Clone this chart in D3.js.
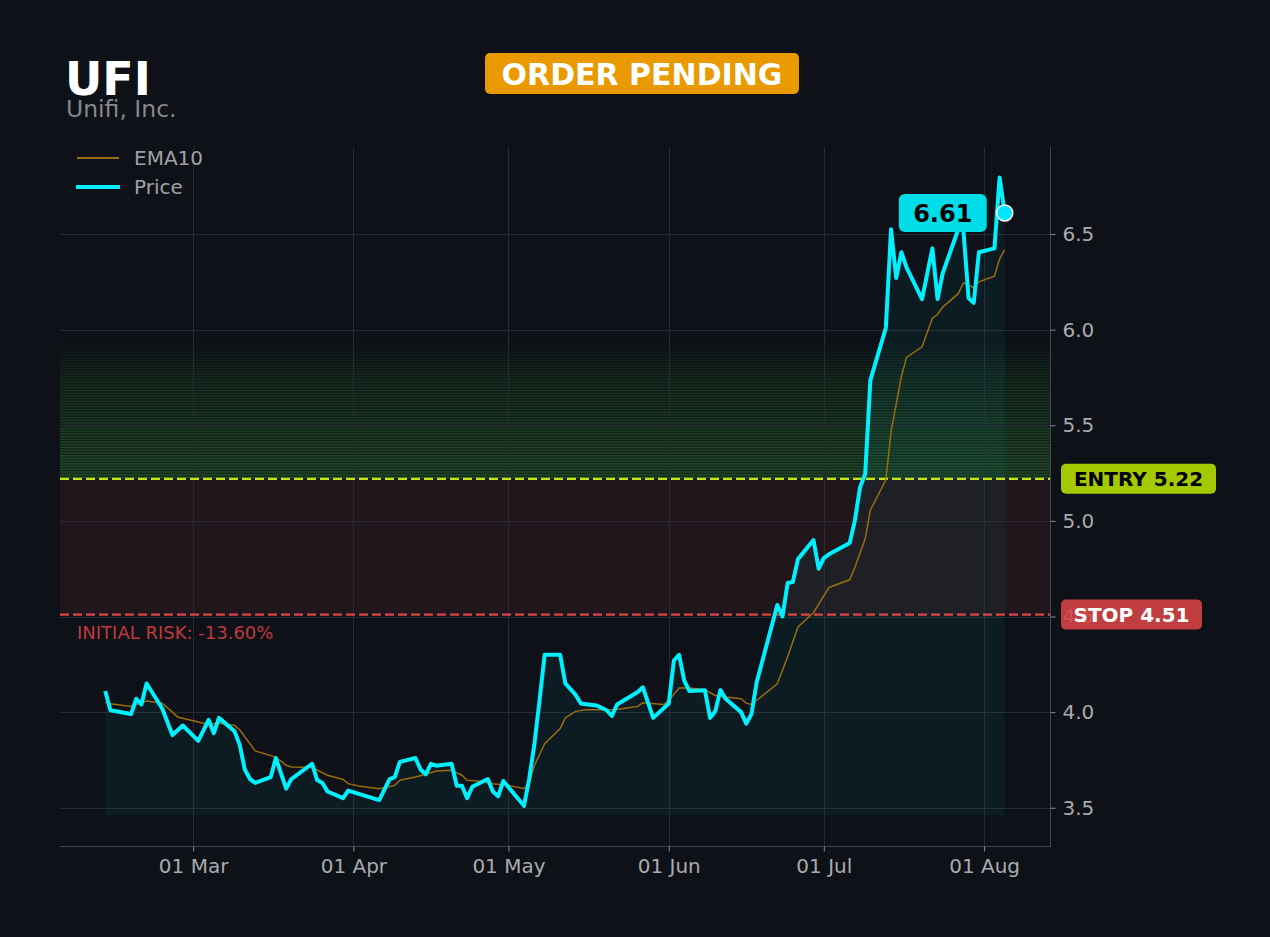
<!DOCTYPE html>
<html>
<head>
<meta charset="utf-8">
<script src="https://cdn.jsdelivr.net/npm/d3@7"></script>
<style>
  body { margin: 0; background: #0e1117; }
  svg { display: block; font-family: "DejaVu Sans", sans-serif; }
</style>
</head>
<body>
<div id="chart"></div>
<script>
const ticker = "UFI";
const companyName = "Unifi, Inc.";
const orderStatus = "ORDER PENDING";
const entryPrice = 5.22;
const stopPrice = 4.51;
const targetPrice = 5.93;
const lastPrice = 6.61;
const riskText = "INITIAL RISK: -13.60%";
const fillBase = 3.46;

// closing prices
const priceDates = [
  "2025-02-12", "2025-02-13", "2025-02-17", "2025-02-18", "2025-02-19", "2025-02-20", "2025-02-23", "2025-02-25",
  "2025-02-27", "2025-03-02", "2025-03-04", "2025-03-05", "2025-03-06", "2025-03-09", "2025-03-10", "2025-03-11",
  "2025-03-12", "2025-03-13", "2025-03-16", "2025-03-17", "2025-03-19", "2025-03-20", "2025-03-24", "2025-03-25",
  "2025-03-26", "2025-03-27", "2025-03-30", "2025-03-31", "2025-04-06", "2025-04-08", "2025-04-09", "2025-04-10",
  "2025-04-13", "2025-04-14", "2025-04-15", "2025-04-16", "2025-04-17", "2025-04-20", "2025-04-21", "2025-04-22",
  "2025-04-23", "2025-04-24", "2025-04-27", "2025-04-28", "2025-04-29", "2025-04-30", "2025-05-04", "2025-05-05",
  "2025-05-06", "2025-05-07", "2025-05-08", "2025-05-11", "2025-05-12", "2025-05-13", "2025-05-14", "2025-05-15",
  "2025-05-18", "2025-05-20", "2025-05-21", "2025-05-22", "2025-05-26", "2025-05-27", "2025-05-29", "2025-06-01",
  "2025-06-02", "2025-06-03", "2025-06-04", "2025-06-05", "2025-06-08", "2025-06-09", "2025-06-10", "2025-06-11",
  "2025-06-12", "2025-06-15", "2025-06-16", "2025-06-17", "2025-06-18", "2025-06-22", "2025-06-23", "2025-06-24",
  "2025-06-25", "2025-06-26", "2025-06-29", "2025-06-30", "2025-07-01", "2025-07-02", "2025-07-06", "2025-07-07",
  "2025-07-08", "2025-07-09", "2025-07-10", "2025-07-13", "2025-07-14", "2025-07-15", "2025-07-16", "2025-07-17",
  "2025-07-20", "2025-07-22", "2025-07-23", "2025-07-24", "2025-07-27", "2025-07-28", "2025-07-29", "2025-07-30",
  "2025-07-31", "2025-08-03", "2025-08-04", "2025-08-05"
];
const priceValues = [
  4.11, 4.01, 3.99, 4.07, 4.04, 4.15, 4.02, 3.88,
  3.93, 3.85, 3.96, 3.89, 3.97, 3.90, 3.83, 3.70,
  3.65, 3.63, 3.66, 3.76, 3.60, 3.65, 3.73, 3.645,
  3.63, 3.585, 3.55, 3.59, 3.54, 3.65, 3.66, 3.74,
  3.76, 3.70, 3.675, 3.73, 3.72, 3.73, 3.615, 3.615,
  3.55, 3.61, 3.65, 3.585, 3.56, 3.64, 3.51, 3.65,
  3.83, 4.06, 4.30, 4.30, 4.15, 4.12, 4.09, 4.045,
  4.035, 4.01, 3.98, 4.04, 4.105, 4.13, 3.97, 4.045,
  4.27, 4.30, 4.165, 4.11, 4.115, 3.97, 4.005, 4.115,
  4.07, 4.00, 3.94, 3.99, 4.155, 4.56, 4.50, 4.675,
  4.68, 4.80, 4.90, 4.75, 4.805, 4.825, 4.885, 5.00,
  5.175, 5.245, 5.735, 6.01, 6.525, 6.27, 6.405, 6.325,
  6.16, 6.425, 6.16, 6.295, 6.525, 6.52, 6.165, 6.14,
  6.405, 6.425, 6.795, 6.61
];

// EMA10
const emaDates = [
  "2025-02-12", "2025-02-13", "2025-02-17", "2025-02-20", "2025-02-23", "2025-02-25", "2025-02-26", "2025-03-02",
  "2025-03-04", "2025-03-06", "2025-03-09", "2025-03-10", "2025-03-13", "2025-03-17", "2025-03-19", "2025-03-20",
  "2025-03-24", "2025-03-27", "2025-03-30", "2025-03-31", "2025-04-02", "2025-04-06", "2025-04-09", "2025-04-10",
  "2025-04-13", "2025-04-15", "2025-04-17", "2025-04-20", "2025-04-22", "2025-04-23", "2025-04-25", "2025-04-28",
  "2025-05-01", "2025-05-04", "2025-05-05", "2025-05-06", "2025-05-08", "2025-05-11", "2025-05-12", "2025-05-14",
  "2025-05-16", "2025-05-21", "2025-05-23", "2025-05-26", "2025-05-27", "2025-05-31", "2025-06-01", "2025-06-03",
  "2025-06-05", "2025-06-08", "2025-06-10", "2025-06-12", "2025-06-15", "2025-06-16", "2025-06-17", "2025-06-22",
  "2025-06-24", "2025-06-26", "2025-06-29", "2025-07-02", "2025-07-06", "2025-07-07", "2025-07-09", "2025-07-10",
  "2025-07-13", "2025-07-14", "2025-07-16", "2025-07-17", "2025-07-20", "2025-07-22", "2025-07-23", "2025-07-24",
  "2025-07-27", "2025-07-28", "2025-07-29", "2025-07-30", "2025-07-31", "2025-08-03", "2025-08-04", "2025-08-05"
];
const emaValues = [
  4.05, 4.044, 4.03, 4.058, 4.047, 4.00, 3.974, 3.948,
  3.936, 3.943, 3.93, 3.908, 3.797, 3.765, 3.722, 3.713,
  3.71, 3.67, 3.648, 3.626, 3.614, 3.60, 3.617, 3.644,
  3.661, 3.675, 3.692, 3.696, 3.67, 3.644, 3.64, 3.626,
  3.617, 3.60, 3.626, 3.72, 3.835, 3.914, 3.97, 4.004,
  4.013, 4.013, 4.018, 4.03, 4.049, 4.04, 4.061, 4.126,
  4.126, 4.117, 4.087, 4.079, 4.07, 4.047, 4.04, 4.148,
  4.29, 4.445, 4.52, 4.652, 4.692, 4.756, 4.906, 5.056,
  5.215, 5.465, 5.755, 5.855, 5.91, 6.06, 6.079, 6.118,
  6.188, 6.244, 6.234, 6.218, 6.25, 6.28, 6.37, 6.418
];

const xTickDates = ["2025-03-01", "2025-04-01", "2025-05-01", "2025-06-01", "2025-07-01", "2025-08-01"];
const xTickLabels = ["01 Mar", "01 Apr", "01 May", "01 Jun", "01 Jul", "01 Aug"];
const yTickValues = [3.5, 4.0, 4.5, 5.0, 5.5, 6.0, 6.5];

const W = 1270, H = 937;
const plot = { left: 60, right: 1050, top: 147, bottom: 846 };
const parse = d3.utcParse("%Y-%m-%d");

const priceData = priceDates.map((d, i) => ({ date: parse(d), value: priceValues[i] }));
const emaData = emaDates.map((d, i) => ({ date: parse(d), value: emaValues[i] }));

const x = d3.scaleUtc()
  .domain([new Date("2025-02-03T06:00:00Z"), new Date("2025-08-13T18:00:00Z")])
  .range([plot.left, plot.right]);
const y = d3.scaleLinear()
  .domain([3.30, 6.955])
  .range([plot.bottom, plot.top]);

const svg = d3.select("#chart")
  .append("svg")
  .attr("width", W)
  .attr("height", H);

svg.append("rect").attr("width", W).attr("height", H).attr("fill", "#0e1117");

// risk zone (stop -> entry)
svg.append("rect")
  .attr("x", plot.left)
  .attr("y", y(entryPrice))
  .attr("width", plot.right - plot.left)
  .attr("height", y(stopPrice) - y(entryPrice))
  .attr("fill", "#d04040")
  .attr("opacity", 0.1);

// reward zone, fading stripes from entry up to target
const nBands = 50;
const bandH = (y(entryPrice) - y(targetPrice)) / nBands;
const zone = svg.append("g");
d3.range(nBands).forEach(i => {
  const t = i / nBands;
  const a = Math.pow(1 - t, 0.7);
  const yb = y(entryPrice) - (i + 1) * bandH;
  zone.append("rect")
    .attr("x", plot.left).attr("y", yb)
    .attr("width", plot.right - plot.left).attr("height", bandH)
    .attr("fill", "#4fd24c")
    .attr("opacity", 0.13 * a);
  zone.append("rect")
    .attr("x", plot.left).attr("y", yb + bandH * 0.25)
    .attr("width", plot.right - plot.left).attr("height", bandH * 0.45)
    .attr("fill", "#4fd24c")
    .attr("opacity", 0.22 * a);
});

// grid
const grid = svg.append("g").attr("stroke", "#262a31").attr("stroke-width", 1);
xTickDates.forEach(d => {
  const xx = Math.round(x(parse(d))) + 0.5;
  grid.append("line").attr("x1", xx).attr("x2", xx).attr("y1", plot.top).attr("y2", plot.bottom);
});
yTickValues.forEach(v => {
  const yy = Math.round(y(v)) + 0.5;
  grid.append("line").attr("x1", plot.left).attr("x2", plot.right).attr("y1", yy).attr("y2", yy);
});

// price area
svg.append("path")
  .datum(priceData)
  .attr("fill", "#00e5ff")
  .attr("opacity", 0.05)
  .attr("d", d3.area().x(d => x(d.date)).y0(y(fillBase)).y1(d => y(d.value)));

// entry & stop lines
svg.append("line")
  .attr("x1", plot.left).attr("x2", plot.right)
  .attr("y1", y(entryPrice)).attr("y2", y(entryPrice))
  .attr("stroke", "#c8e614").attr("stroke-width", 2.2)
  .attr("stroke-dasharray", "9,4");
svg.append("line")
  .attr("x1", plot.left).attr("x2", plot.right)
  .attr("y1", y(stopPrice)).attr("y2", y(stopPrice))
  .attr("stroke", "#dc4646").attr("stroke-width", 2.2)
  .attr("stroke-dasharray", "9,4");

// EMA10
svg.append("path")
  .datum(emaData)
  .attr("fill", "none")
  .attr("stroke", "#9a6c0e")
  .attr("stroke-width", 1.5)
  .attr("d", d3.line().x(d => x(d.date)).y(d => y(d.value)));

// price line
svg.append("path")
  .datum(priceData)
  .attr("fill", "none")
  .attr("stroke", "#00f0ff")
  .attr("stroke-width", 4)
  .attr("stroke-linejoin", "round")
  .attr("d", d3.line().x(d => x(d.date)).y(d => y(d.value)));

// spines
svg.append("line")
  .attr("x1", plot.left).attr("x2", plot.right + 0.5)
  .attr("y1", plot.bottom + 0.5).attr("y2", plot.bottom + 0.5)
  .attr("stroke", "#43464c").attr("stroke-width", 1);
svg.append("line")
  .attr("x1", plot.right + 0.5).attr("x2", plot.right + 0.5)
  .attr("y1", plot.top).attr("y2", plot.bottom + 0.5)
  .attr("stroke", "#43464c").attr("stroke-width", 1);

// axes
const xAxis = svg.append("g")
  .attr("transform", `translate(0,${plot.bottom + 0.5})`)
  .call(d3.axisBottom(x)
    .tickValues(xTickDates.map(parse))
    .tickFormat((d, i) => xTickLabels[i])
    .tickSize(5).tickPadding(7));
const yAxis = svg.append("g")
  .attr("transform", `translate(${plot.right + 0.5},0)`)
  .call(d3.axisRight(y)
    .tickValues(yTickValues)
    .tickFormat(d3.format(".1f"))
    .tickSize(5).tickPadding(7));
[xAxis, yAxis].forEach(g => {
  g.select(".domain").remove();
  g.selectAll(".tick line").attr("stroke", "#8a8d92");
  g.selectAll(".tick text")
    .attr("fill", "#a9abae")
    .attr("font-size", 20)
    .attr("font-family", "DejaVu Sans");
});

// level labels (semi-transparent, tick label shows faintly beneath)
function levelLabel(value, text, bg, fg, w, alpha) {
  const g = svg.append("g").attr("transform", `translate(1061,${y(value)})`);
  g.append("rect")
    .attr("x", 0).attr("y", -15)
    .attr("width", w).attr("height", 30)
    .attr("rx", 5)
    .attr("fill", bg)
    .attr("opacity", alpha);
  g.append("text")
    .attr("x", w / 2).attr("y", 0)
    .attr("dy", "0.36em")
    .attr("text-anchor", "middle")
    .attr("font-size", 20)
    .attr("font-weight", "bold")
    .attr("fill", fg)
    .text(text);
}
levelLabel(entryPrice, `ENTRY ${entryPrice.toFixed(2)}`, "#aad000", "#000", 155, 0.97);
levelLabel(stopPrice, `STOP ${stopPrice.toFixed(2)}`, "#da4347", "#fff", 141, 0.88);

svg.append("text")
  .attr("x", 77).attr("y", y(stopPrice) + 24)
  .attr("font-size", 18)
  .attr("fill", "#c0393d")
  .text(riskText);

// last price marker + label
const last = priceData[priceData.length - 1];
const lx = x(last.date), ly = y(lastPrice);
svg.append("circle")
  .attr("cx", lx).attr("cy", ly).attr("r", 8)
  .attr("fill", "#00e5ff")
  .attr("stroke", "#fff").attr("stroke-width", 1.5);
const tag = svg.append("g").attr("transform", `translate(${lx - 106},${ly})`);
tag.append("rect")
  .attr("x", 0).attr("y", -19)
  .attr("width", 88).attr("height", 38)
  .attr("rx", 6)
  .attr("fill", "#00dce8");
tag.append("text")
  .attr("x", 44).attr("y", 0).attr("dy", "0.36em")
  .attr("text-anchor", "middle")
  .attr("font-size", 24).attr("font-weight", "bold")
  .attr("fill", "#000")
  .text(lastPrice.toFixed(2));

// legend
const legend = svg.append("g");
legend.append("line")
  .attr("x1", 77).attr("x2", 119).attr("y1", 158).attr("y2", 158)
  .attr("stroke", "#9a6c0e").attr("stroke-width", 2);
legend.append("text")
  .attr("x", 134).attr("y", 158).attr("dy", "0.36em")
  .attr("font-size", 20).attr("fill", "#a0a2a5")
  .text("EMA10");
legend.append("line")
  .attr("x1", 76).attr("x2", 120).attr("y1", 187).attr("y2", 187)
  .attr("stroke", "#00f0ff").attr("stroke-width", 4);
legend.append("text")
  .attr("x", 134).attr("y", 187).attr("dy", "0.36em")
  .attr("font-size", 20).attr("fill", "#a0a2a5")
  .text("Price");

// header
svg.append("text")
  .attr("x", 65).attr("y", 95)
  .attr("font-size", 46).attr("font-weight", "bold")
  .attr("fill", "#fff")
  .text(ticker);
svg.append("text")
  .attr("x", 66).attr("y", 117)
  .attr("font-size", 23.5)
  .attr("fill", "#85878a")
  .text(companyName);

svg.append("rect")
  .attr("x", 485).attr("y", 53)
  .attr("width", 314).attr("height", 41)
  .attr("rx", 5)
  .attr("fill", "#e89a00");
svg.append("text")
  .attr("x", 642).attr("y", 74).attr("dy", "0.36em")
  .attr("text-anchor", "middle")
  .attr("font-size", 30).attr("font-weight", "bold")
  .attr("fill", "#fff")
  .text(orderStatus);
</script>
</body>
</html>
